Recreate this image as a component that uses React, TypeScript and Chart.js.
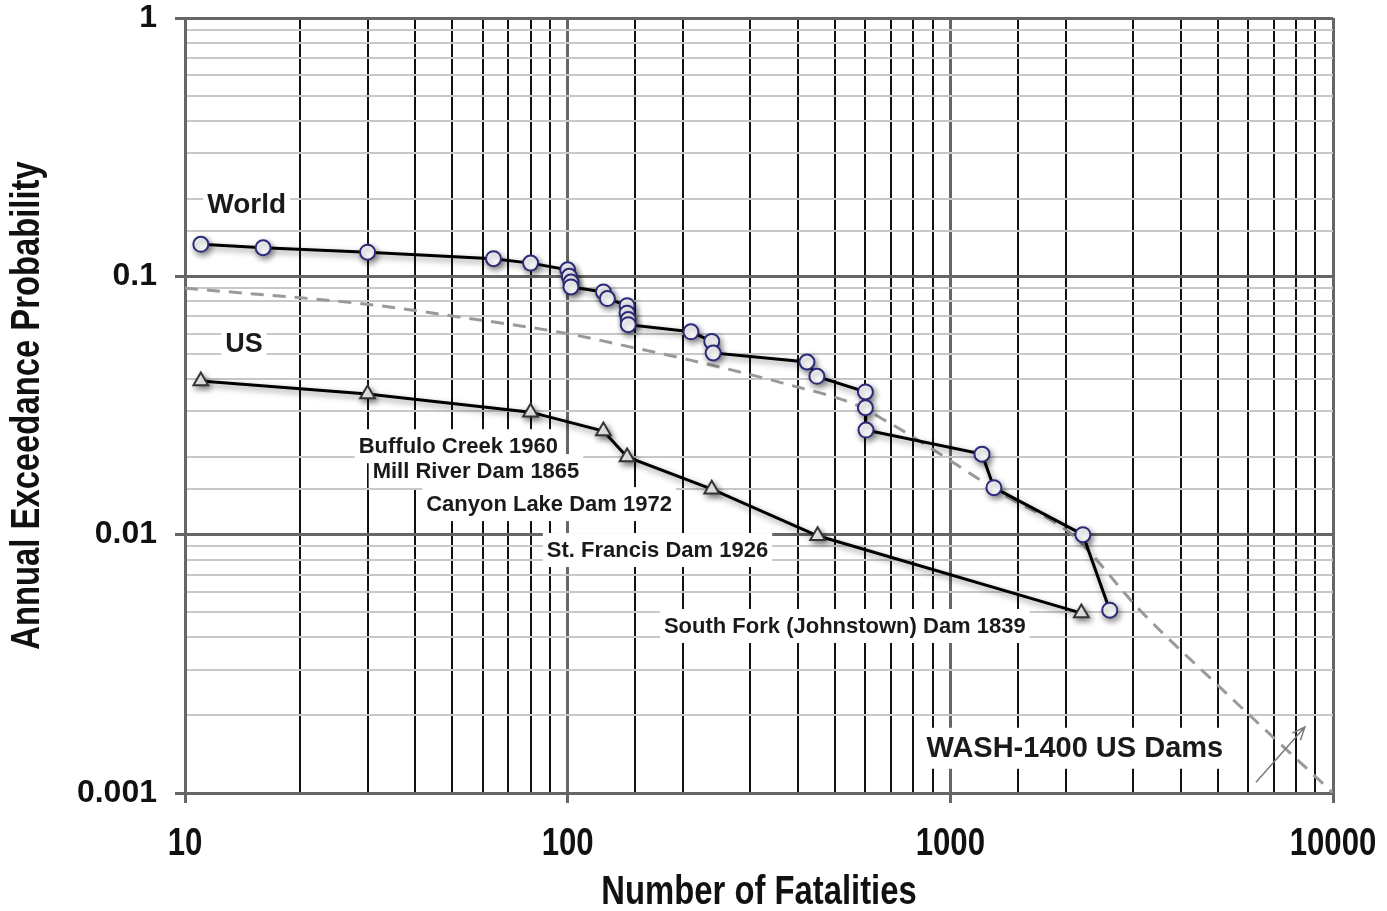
import React, { useEffect, useRef } from 'react';
import { Chart, registerables } from 'chart.js';

Chart.register(...registerables);

// ---- data ----
const worldFatalities = [11, 16, 30, 64, 80, 100, 101, 102, 102, 124, 127, 143, 143, 144, 144, 210, 238, 240, 422, 448, 600, 600, 602, 1210, 1300, 2220, 2610];
const worldProbability = [0.133, 0.129, 0.124, 0.117, 0.1125, 0.106, 0.1, 0.095, 0.091, 0.087, 0.082, 0.077, 0.072, 0.068, 0.065, 0.061, 0.056, 0.0505, 0.0466, 0.041, 0.0357, 0.031, 0.0254, 0.0205, 0.0152, 0.01, 0.0051];

const usFatalities = [11, 30, 80, 124, 143, 238, 450, 2200];
const usProbability = [0.0393, 0.035, 0.0298, 0.0252, 0.02, 0.015, 0.0099, 0.00497];

const washFatalities = [10, 31, 52, 100, 150, 209, 365, 570, 695, 784, 1410, 2080, 3130, 5060, 10000];
const washProbability = [0.09, 0.0775, 0.0696, 0.06, 0.0528, 0.0474, 0.0386, 0.0317, 0.027, 0.0243, 0.014, 0.01, 0.0051, 0.00257, 0.001];

const xTickValues = [10, 100, 1000, 10000];
const xTickLabels = ['10', '100', '1000', '10000'];
const yTickValues = [0.001, 0.01, 0.1, 1];
const yTickLabels = ['0.001', '0.01', '0.1', '1'];

const xTitle = 'Number of Fatalities';
const yTitle = 'Annual Exceedance Probability';

// text annotations: text, anchor x (fatalities), anchor y (probability), font size
const noteTexts = ['World', 'US', 'Buffulo Creek 1960', 'Mill River Dam 1865', 'Canyon Lake Dam 1972', 'St. Francis Dam 1926', 'South Fork (Johnstown) Dam 1839', 'WASH-1400 US Dams'];
const noteX = [14.5, 14.26, 51.8, 57.6, 89.4, 171.7, 530, 2116];
const noteY = [0.1905, 0.0547, 0.022, 0.01763, 0.01313, 0.00872, 0.00443, 0.00149];
const noteSizes = [28, 27, 22, 22, 22, 22, 22, 29];

// arrow near WASH-1400 curve (tail, tip) in data units
const arrowX = [6290, 8443];
const arrowY = [0.0011, 0.0018];

const SANS = '"Liberation Sans", Arial, Helvetica, sans-serif';
const CONDENSE = 0.82;

const isMajor = (v: number) => {
  const l = Math.log10(v);
  return Math.abs(l - Math.round(l)) < 1e-6;
};

const drawCondensed = (ctx: any, text: string, x: number, y: number, size: number, rot: number) => {
  ctx.save();
  ctx.translate(x, y);
  if (rot) ctx.rotate(rot);
  ctx.scale(CONDENSE, 1);
  ctx.font = `bold ${size}px ${SANS}`;
  ctx.fillStyle = '#111111';
  ctx.textAlign = 'center';
  ctx.textBaseline = 'middle';
  ctx.fillText(text, 0, 0);
  ctx.restore();
};

const notesPlugin = {
  id: 'notes',
  beforeDatasetsDraw(chart: any) {
    const { ctx, scales } = chart;
    const xs = scales.x;
    const ys = scales.y;
    ctx.save();
    const items = noteTexts.map((t, i) => {
      ctx.font = `bold ${noteSizes[i]}px ${SANS}`;
      const w = ctx.measureText(t).width;
      return { t, w, cx: xs.getPixelForValue(noteX[i]), cy: ys.getPixelForValue(noteY[i]), s: noteSizes[i] };
    });
    ctx.fillStyle = '#ffffff';
    items.forEach((it) => {
      const h = it.s + 12;
      ctx.fillRect(it.cx - it.w / 2 - 4, it.cy - h / 2, it.w + 8, h);
    });
    ctx.fillStyle = '#1a1a1a';
    ctx.textAlign = 'center';
    ctx.textBaseline = 'middle';
    items.forEach((it) => {
      ctx.font = `bold ${it.s}px ${SANS}`;
      ctx.fillText(it.t, it.cx, it.cy + 1);
    });
    ctx.restore();
  },
  afterDatasetsDraw(chart: any) {
    const { ctx, scales } = chart;
    const x0 = scales.x.getPixelForValue(arrowX[0]);
    const y0 = scales.y.getPixelForValue(arrowY[0]);
    const x1 = scales.x.getPixelForValue(arrowX[1]);
    const y1 = scales.y.getPixelForValue(arrowY[1]);
    const ang = Math.atan2(y1 - y0, x1 - x0);
    ctx.save();
    ctx.strokeStyle = '#7a7a7a';
    ctx.lineWidth = 1.5;
    ctx.beginPath();
    ctx.moveTo(x0, y0);
    ctx.lineTo(x1, y1);
    const L = 14;
    ctx.moveTo(x1 - L * Math.cos(ang - 0.4), y1 - L * Math.sin(ang - 0.4));
    ctx.lineTo(x1, y1);
    ctx.lineTo(x1 - L * Math.cos(ang + 0.4), y1 - L * Math.sin(ang + 0.4));
    ctx.stroke();
    ctx.restore();
  },
  afterDraw(chart: any) {
    const { ctx, scales, chartArea } = chart;
    // x tick labels (condensed bold, as in the original)
    xTickValues.forEach((v, i) => {
      drawCondensed(ctx, xTickLabels[i], scales.x.getPixelForValue(v), chartArea.bottom + 52, 38, 0);
    });
    // axis titles
    drawCondensed(ctx, xTitle, (chartArea.left + chartArea.right) / 2, chartArea.bottom + 100, 40, 0);
    drawCondensed(ctx, yTitle, chartArea.left - 157, (chartArea.top + chartArea.bottom) / 2, 40, -Math.PI / 2);
  },
  beforeDatasetDraw(chart: any, args: any) {
    if (args.index < 2) {
      const ctx = chart.ctx;
      ctx.save();
      ctx.shadowColor = 'rgba(0,0,0,0.45)';
      ctx.shadowBlur = 6;
      ctx.shadowOffsetX = 2;
      ctx.shadowOffsetY = 3;
    }
  },
  afterDatasetDraw(chart: any, args: any) {
    if (args.index < 2) chart.ctx.restore();
  },
};

export default function App() {
  const ref = useRef<HTMLCanvasElement | null>(null);

  useEffect(() => {
    document.body.style.margin = '0';
    const canvas = ref.current;
    if (!canvas) return;

    const chart = new Chart(canvas, {
      type: 'line',
      data: {
        datasets: [
          {
            label: 'World',
            data: worldFatalities.map((x, i) => ({ x, y: worldProbability[i] })),
            borderColor: '#000000',
            borderWidth: 3,
            pointStyle: 'circle',
            pointRadius: 7.5,
            pointBorderWidth: 2,
            pointBorderColor: '#2b2b7a',
            pointBackgroundColor: '#ffffff',
            tension: 0,
          },
          {
            label: 'US',
            data: usFatalities.map((x, i) => ({ x, y: usProbability[i] })),
            borderColor: '#000000',
            borderWidth: 3,
            pointStyle: 'triangle',
            pointRadius: 8.5,
            pointBorderWidth: 2,
            pointBorderColor: '#333333',
            pointBackgroundColor: '#ffffff',
            tension: 0,
          },
          {
            label: 'WASH-1400 US Dams',
            data: washFatalities.map((x, i) => ({ x, y: washProbability[i] })),
            borderColor: '#9a9a9a',
            borderWidth: 3,
            borderDash: [13, 9],
            pointRadius: 0,
            cubicInterpolationMode: 'monotone',
          },
        ],
      },
      options: {
        responsive: false,
        animation: false,
        events: [],
        layout: { padding: { top: 18, right: 54, left: 0, bottom: 0 } },
        plugins: { legend: { display: false }, tooltip: { enabled: false } },
        scales: {
          x: {
            type: 'logarithmic',
            min: 10,
            max: 10000,
            afterFit: (s: any) => { s.height = 118; s.paddingLeft = 0; s.paddingRight = 0; },
            grid: {
              color: (c: any) => (c.tick && isMajor(c.tick.value) ? '#666666' : '#111111'),
              lineWidth: (c: any) => (c.tick && isMajor(c.tick.value) ? 3 : 2),
              tickColor: (c: any) => (c.tick && isMajor(c.tick.value) ? '#666666' : 'rgba(0,0,0,0)'),
              tickLength: 10,
              tickWidth: 3,
            },
            border: { color: '#666666', width: 3 },
            ticks: {
              display: false,
              autoSkip: false,
              callback: (v: any) => {
                const i = xTickValues.findIndex((t) => Math.abs(Math.log10(t) - Math.log10(Number(v))) < 1e-6);
                return i >= 0 ? xTickLabels[i] : '';
              },
            },
            title: { display: false, text: xTitle },
          },
          y: {
            type: 'logarithmic',
            min: 0.001,
            max: 1,
            afterFit: (s: any) => { s.width = 185; s.paddingTop = 0; s.paddingBottom = 0; },
            grid: {
              color: (c: any) => (c.tick && isMajor(c.tick.value) ? '#666666' : '#c8c8c8'),
              lineWidth: (c: any) => (c.tick && isMajor(c.tick.value) ? 3 : 2),
              tickColor: (c: any) => (c.tick && isMajor(c.tick.value) ? '#666666' : 'rgba(0,0,0,0)'),
              tickLength: 10,
              tickWidth: 3,
            },
            border: { color: '#666666', width: 3 },
            ticks: {
              autoSkip: false,
              padding: 18,
              color: '#111111',
              font: { family: SANS, size: 32, weight: 'bold', lineHeight: 1 },
              callback: (v: any) => {
                const i = yTickValues.findIndex((t) => Math.abs(Math.log10(t) - Math.log10(Number(v))) < 1e-6);
                return i >= 0 ? yTickLabels[i] : '';
              },
            },
            title: { display: false, text: yTitle },
          },
        },
      } as any,
      plugins: [notesPlugin],
    });

    return () => chart.destroy();
  }, []);

  return (
    <div style={{ position: 'absolute', left: 0, top: 0, width: 1387, height: 911, background: '#ffffff' }}>
      <canvas ref={ref} width={1387} height={911} style={{ width: 1387, height: 911, display: 'block' }} />
    </div>
  );
}
